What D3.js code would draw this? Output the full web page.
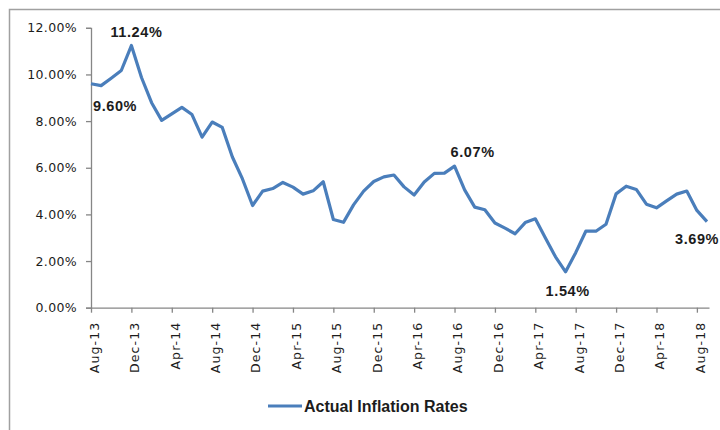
<!DOCTYPE html>
<html>
<head>
<meta charset="utf-8">
<script src="https://cdn.jsdelivr.net/npm/d3@7/dist/d3.min.js"></script>
<style>
  html, body { margin: 0; padding: 0; background: #fff; }
  svg { display: block; }
</style>
</head>
<body>
<svg id="chart" width="720" height="430"></svg>
<script>
// Monthly CPI inflation, Aug-13 .. Sep-18 (percent)
const months = [
  "Aug-13","Sep-13","Oct-13","Nov-13","Dec-13","Jan-14","Feb-14","Mar-14","Apr-14","May-14","Jun-14","Jul-14",
  "Aug-14","Sep-14","Oct-14","Nov-14","Dec-14","Jan-15","Feb-15","Mar-15","Apr-15","May-15","Jun-15","Jul-15",
  "Aug-15","Sep-15","Oct-15","Nov-15","Dec-15","Jan-16","Feb-16","Mar-16","Apr-16","May-16","Jun-16","Jul-16",
  "Aug-16","Sep-16","Oct-16","Nov-16","Dec-16","Jan-17","Feb-17","Mar-17","Apr-17","May-17","Jun-17","Jul-17",
  "Aug-17","Sep-17","Oct-17","Nov-17","Dec-17","Jan-18","Feb-18","Mar-18","Apr-18","May-18","Jun-18","Jul-18",
  "Aug-18","Sep-18"
];
const inflation = [
  9.60, 9.52, 9.84, 10.17, 11.24, 9.87, 8.79, 8.03, 8.31, 8.59, 8.28, 7.31,
  7.96, 7.73, 6.46, 5.52, 4.38, 5.00, 5.11, 5.37, 5.17, 4.87, 5.01, 5.40,
  3.78, 3.66, 4.41, 5.00, 5.41, 5.61, 5.69, 5.18, 4.83, 5.39, 5.76, 5.77,
  6.07, 5.05, 4.31, 4.20, 3.63, 3.41, 3.17, 3.65, 3.81, 2.99, 2.18, 1.54,
  2.36, 3.28, 3.28, 3.58, 4.88, 5.21, 5.07, 4.44, 4.28, 4.58, 4.87, 5.00,
  4.17, 3.69
];
const yTicks = [0, 2, 4, 6, 8, 10, 12];
const xTickLabels = ["Aug-13","Dec-13","Apr-14","Aug-14","Dec-14","Apr-15","Aug-15","Dec-15",
                     "Apr-16","Aug-16","Dec-16","Apr-17","Aug-17","Dec-17","Apr-18","Aug-18"];
const seriesName = "Actual Inflation Rates";
// points that carry a value label
const labelled = ["Aug-13", "Dec-13", "Aug-16", "Jul-17", "Sep-18"];

const svg = d3.select("#chart");
const lineColor = "#4a7ebb";
const axisColor = "#868686";
const textColor = "#1c1c1c";

// outer chart frame
svg.append("rect")
  .attr("x", 9.5).attr("y", 9.5)
  .attr("width", 760).attr("height", 480)
  .attr("fill", "#fff")
  .attr("stroke", "#a0a0a0").attr("stroke-width", 1.5);

const x = d3.scaleLinear().domain([0, months.length - 0.8]).range([91, 709]);
const y = d3.scaleLinear().domain([0, 12]).range([307.7, 27.8]);

// y axis
const yAxis = svg.append("g")
  .attr("transform", "translate(91,0)")
  .call(d3.axisLeft(y).tickValues(yTicks).tickSize(5).tickPadding(9)
        .tickFormat(d => d.toFixed(2) + "%"));
yAxis.select(".domain").attr("stroke", axisColor).attr("stroke-width", 1.3);
yAxis.selectAll(".tick line").attr("stroke", axisColor).attr("stroke-width", 1.3);
yAxis.selectAll(".tick text")
  .attr("fill", textColor)
  .style("font-family", "'DejaVu Sans', sans-serif")
  .style("font-size", "12.5px")
  .style("letter-spacing", "0.35px");

// x axis (one tick every four months)
const tickIdx = xTickLabels.map(m => months.indexOf(m));
const xAxis = svg.append("g")
  .attr("transform", "translate(0,307.7)")
  .call(d3.axisBottom(x).tickValues(tickIdx).tickSize(5).tickSizeOuter(0)
        .tickFormat(i => months[i]));
xAxis.select(".domain").attr("stroke", axisColor).attr("stroke-width", 1.3);
xAxis.selectAll(".tick line").attr("stroke", axisColor).attr("stroke-width", 1.3);
xAxis.selectAll(".tick text")
  .attr("fill", textColor)
  .attr("transform", "rotate(-90)")
  .attr("text-anchor", "end")
  .attr("x", -14)
  .attr("y", 3)
  .attr("dy", "0.35em")
  .style("font-family", "'DejaVu Sans', sans-serif")
  .style("font-size", "12.5px")
  .style("letter-spacing", "1.1px");

// series line
const line = d3.line()
  .x((d, i) => x(i))
  .y(d => y(d));
svg.append("path")
  .datum(inflation)
  .attr("fill", "none")
  .attr("stroke", lineColor)
  .attr("stroke-width", 3.2)
  .attr("stroke-linejoin", "round")
  .attr("d", line);

// value labels
const labelOffset = {
  "Aug-13": [2, 27],
  "Dec-13": [-21, -9],
  "Aug-16": [-4, -9],
  "Jul-17": [-20, 24],
  "Sep-18": [-32, 22]
};
svg.append("g").selectAll("text")
  .data(labelled)
  .join("text")
  .attr("x", m => x(months.indexOf(m)) + labelOffset[m][0])
  .attr("y", m => y(inflation[months.indexOf(m)]) + labelOffset[m][1])
  .attr("fill", textColor)
  .style("font-family", "'Liberation Sans', Arial, sans-serif")
  .style("font-weight", "bold")
  .style("font-size", "14.5px")
  .style("letter-spacing", "0.6px")
  .text(m => inflation[months.indexOf(m)].toFixed(2) + "%");

// legend
const legend = svg.append("g").attr("transform", "translate(268,406)");
legend.append("line")
  .attr("x1", 0).attr("x2", 34).attr("y1", 0).attr("y2", 0)
  .attr("stroke", lineColor).attr("stroke-width", 3.2);
legend.append("text")
  .attr("x", 36).attr("y", 5.5)
  .attr("fill", textColor)
  .style("font-family", "'Liberation Sans', Arial, sans-serif")
  .style("font-weight", "bold")
  .style("font-size", "16px")
  .text(seriesName);
</script>
</body>
</html>
